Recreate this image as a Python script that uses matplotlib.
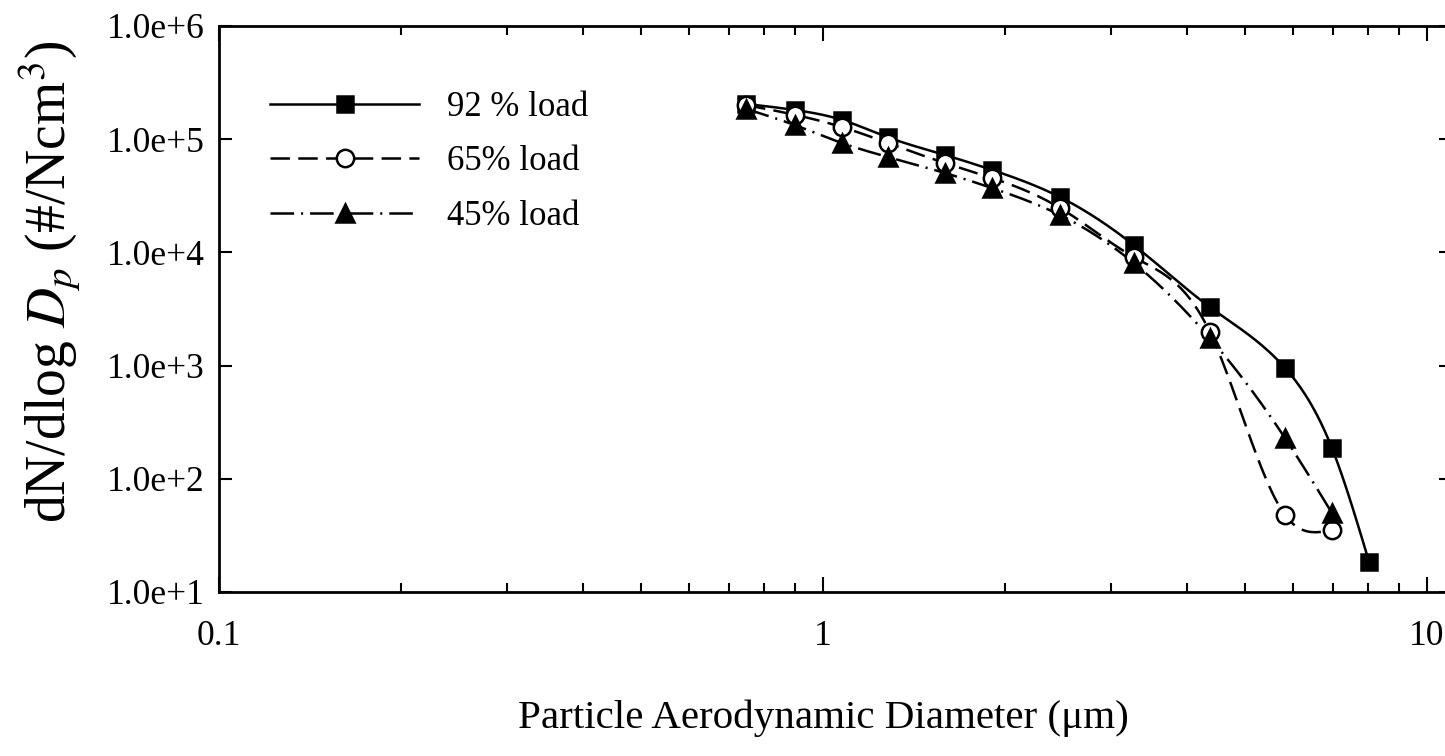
import numpy as np
import matplotlib
matplotlib.use("Agg")
import matplotlib.pyplot as plt
from matplotlib.lines import Line2D
from matplotlib.ticker import FixedLocator, FixedFormatter, LogLocator, NullFormatter

# Particle size distribution at three boiler loads
diameter_um = [0.746, 0.899, 1.075, 1.281, 1.592, 1.905, 2.468, 3.27, 4.37, 5.82, 6.96, 8.02]
load_92 = [2.05e5, 1.81e5, 1.48e5, 1.04e5, 7.25e4, 5.35e4, 3.08e4, 1.16e4, 3.29e3, 953, 187, 18.4]
load_65 = [2.0e5, 1.64e5, 1.28e5, 9.26e4, 6.16e4, 4.54e4, 2.47e4, 9.1e3, 1.98e3, 47.9, 35.3]
load_45 = [1.85e5, 1.33e5, 9.25e4, 6.96e4, 5.03e4, 3.70e4, 2.14e4, 8.06e3, 1.75e3, 229, 49.9]

series_labels = ["92 % load", "65% load", "45% load"]
y_ticks = [1e1, 1e2, 1e3, 1e4, 1e5, 1e6]
y_tick_labels = ["1.0e+1", "1.0e+2", "1.0e+3", "1.0e+4", "1.0e+5", "1.0e+6"]
x_ticks = [0.1, 1, 10]
x_tick_labels = ["0.1", "1", "10"]

plt.rcParams["font.family"] = ["Liberation Serif", "DejaVu Serif"]
plt.rcParams["mathtext.fontset"] = "stix"


def natural_spline(x, y, xs):
    """Natural cubic spline through (x, y), evaluated at xs."""
    x = np.asarray(x, float)
    y = np.asarray(y, float)
    n = len(x)
    h = np.diff(x)
    A = np.zeros((n, n))
    b = np.zeros(n)
    A[0, 0] = 1.0
    A[-1, -1] = 1.0
    for i in range(1, n - 1):
        A[i, i - 1] = h[i - 1]
        A[i, i] = 2 * (h[i - 1] + h[i])
        A[i, i + 1] = h[i]
        b[i] = 3 * ((y[i + 1] - y[i]) / h[i] - (y[i] - y[i - 1]) / h[i - 1])
    c = np.linalg.solve(A, b)
    a = y[:-1]
    bc = (y[1:] - y[:-1]) / h - h * (2 * c[:-1] + c[1:]) / 3
    d = (c[1:] - c[:-1]) / (3 * h)
    idx = np.clip(np.searchsorted(x, xs) - 1, 0, n - 2)
    t = xs - x[idx]
    return a[idx] + bc[idx] * t + c[idx] * t ** 2 + d[idx] * t ** 3


def smooth_loglog(xv, yv, npts=400):
    lx = np.log10(xv)
    ly = np.log10(yv)
    xs = np.linspace(lx[0], lx[-1], npts)
    return 10 ** xs, 10 ** natural_spline(lx, ly, xs)


fig = plt.figure(figsize=(14.45, 7.56), dpi=100)
ax = fig.add_axes([219 / 1445, 1 - 592 / 756, (1451 - 219) / 1445, (592 - 26) / 756])

lw = 1.8
dash_long = (14 / lw, 6 / lw)
dash_dot = (17 / lw, 5 / lw, 1.5 / lw, 5 / lw)

styles = [
    dict(marker="s", ms=11.5, mfc="black", mec="black", dashes=None),
    dict(marker="o", ms=12.5, mfc="white", mec="black", dashes=dash_long),
    dict(marker="^", ms=12.5, mfc="black", mec="black", dashes=dash_dot),
]
series = [load_92, load_65, load_45]

handles = []
for k, (vals, st) in enumerate(zip(series, styles)):
    xv = diameter_um[:len(vals)]
    sx, sy = smooth_loglog(xv, vals)
    line, = ax.plot(sx, sy, color="black", lw=lw, zorder=2 + k)
    if st["dashes"] is not None:
        line.set_dashes(st["dashes"])
    ax.plot(xv, vals, ls="none", marker=st["marker"], ms=st["ms"],
            mfc=st["mfc"], mec=st["mec"], mew=1.8, zorder=5 + k)
    h = Line2D([], [], color="black", lw=lw, marker=st["marker"], ms=st["ms"],
               mfc=st["mfc"], mec=st["mec"], mew=1.8)
    if st["dashes"] is not None:
        h.set_dashes(st["dashes"])
    handles.append(h)

ax.set_xscale("log")
ax.set_yscale("log")
ax.set_xlim(0.1, 10 ** (1 + (1451 - 1427) / 604))
ax.set_ylim(1e1, 1e6)

ax.xaxis.set_major_locator(FixedLocator(x_ticks))
ax.xaxis.set_major_formatter(FixedFormatter(x_tick_labels))
ax.xaxis.set_minor_locator(LogLocator(base=10, subs=np.arange(2, 10)))
ax.xaxis.set_minor_formatter(NullFormatter())
ax.yaxis.set_major_locator(FixedLocator(y_ticks))
ax.yaxis.set_major_formatter(FixedFormatter(y_tick_labels))
ax.yaxis.set_minor_locator(FixedLocator([]))

ax.tick_params(axis="x", which="major", direction="in", top=True, bottom=True,
               length=11, width=1.5, labelsize=25.5, pad=20)
ax.tick_params(axis="x", which="minor", direction="in", top=True, bottom=True,
               length=6.5, width=1.5)
ax.tick_params(axis="y", which="major", direction="in", left=True, right=True,
               length=9, width=1.5, labelsize=25.5, pad=10)
for sp in ax.spines.values():
    sp.set_linewidth(2)

ax.set_xlabel("Particle Aerodynamic Diameter (\u03bcm)", fontsize=29.5)
ax.xaxis.set_label_coords((823 - 219) / (1451 - 219), -(718 - 592) / 566)
ax.set_ylabel("dN/dlog $D_p$ (#/Ncm$^3$)", fontsize=40)
ax.yaxis.set_label_coords(-(219 - 50) / 1232, (592 - 282) / 566)
ax.xaxis.label.set_va("center")
ax.yaxis.label.set_va("center")

ax.legend(handles, series_labels, loc="upper left", frameon=False,
          fontsize=25, handlelength=4.3, numpoints=1, handletextpad=0.8,
          labelspacing=0.62, borderaxespad=0,
          bbox_to_anchor=((256 - 219) / 1232, 1 - (77 - 26) / 566))

fig.savefig("out.png", dpi=100)
